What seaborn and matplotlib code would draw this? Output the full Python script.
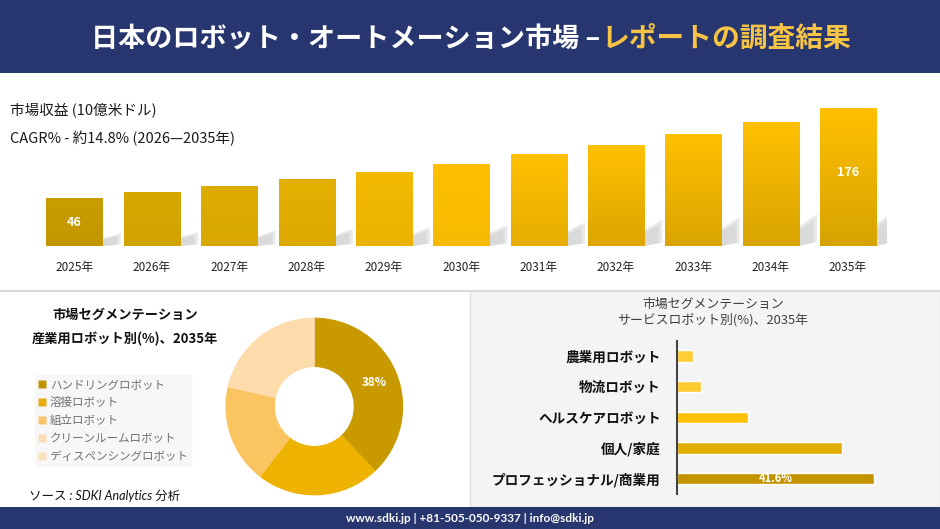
import numpy as np
import pandas as pd
import matplotlib
matplotlib.use("Agg")
import matplotlib.pyplot as plt
from matplotlib.patches import Rectangle, Polygon
from matplotlib.lines import Line2D
from matplotlib.colors import to_rgb
import seaborn as sns

# ---------------- data ----------------
years = ["2025年", "2026年", "2027年", "2028年", "2029年", "2030年",
         "2031年", "2032年", "2033年", "2034年", "2035年"]
revenue = [46, 54.7, 63.3, 72.6, 83.1, 94.7, 108.7, 121.7, 137.6, 155.4, 176]
revenue_labels = {0: "46", 10: "176"}

ind_segments = ["ハンドリングロボット", "溶接ロボット", "組立ロボット",
                "クリーンルームロボット", "ディスペンシングロボット"]
ind_shares = [38, 22.5, 18.1, 12.0, 9.4]

svc_segments = ["農業用ロボット", "物流ロボット", "ヘルスケアロボット",
                "個人/家庭", "プロフェッショナル/商業用"]
svc_shares = [3.3, 5.0, 14.9, 34.9, 41.6]

# ---------------- style ----------------
W, H = 940, 529
NAVY = "#27366F"
bar_top = ["#CA9D00", "#D8A800", "#DEAC00", "#E4B000", "#F3BA00", "#FFC000",
           "#FFC000", "#FFC000", "#FFC000", "#FFC000", "#FFC000"]
bar_bot = ["#C39600", "#D2A300", "#D9A800", "#DDAA00", "#EAB300", "#F6BA00",
           "#E6AE00", "#DCA600", "#DAA500", "#D8A400", "#D6A300"]
donut_colors = ["#C89A00", "#EEB300", "#FAC460", "#FDDCAB", "#FDDCAB"]
legend_colors = ["#C09300", "#E8AE10", "#F7C46A", "#FADDB6", "#FBE2BE"]
svc_colors = ["#FFCD35", "#FFCA30", "#FFC000", "#E3AC00", "#C49400"]
BASE = -23.8

sns.set_style("white")
plt.rcParams["font.family"] = ["Noto Sans CJK JP", "DejaVu Sans"]

fig = plt.figure(figsize=(W / 100, H / 100), dpi=100)
fig.patch.set_facecolor("white")


def fx(px):
    return px / W


def fy(py):
    return 1 - py / H


# background panels
fig.add_artist(Rectangle((0, fy(73)), 1, 73 / H, transform=fig.transFigure,
                         facecolor=NAVY, edgecolor="none", zorder=0))
fig.add_artist(Rectangle((fx(470), fy(507)), 470 / W, (507 - 291) / H,
                         transform=fig.transFigure, facecolor="#F4F4F4",
                         edgecolor="#E2E2E2", lw=1, zorder=0))
fig.add_artist(Line2D([0, 1], [fy(291), fy(291)], transform=fig.transFigure,
                      color="#DADADA", lw=1.5, zorder=1))
fig.add_artist(Rectangle((0, 0), 1, (H - 507) / H, transform=fig.transFigure,
                         facecolor=NAVY, edgecolor="none", zorder=0))

# header title
fig.text(fx(600), fy(39), "日本のロボット・オートメーション市場 –", color="white",
         fontsize=19.5, fontweight="bold", ha="right", va="center")
fig.text(fx(602), fy(39), "レポートの調査結果", color="#F6C344",
         fontsize=20, fontweight="bold", ha="left", va="center")

fig.text(fx(10), fy(110), "市場収益 (10億米ドル)", fontsize=10.5, color="#1a1a1a",
         ha="left", va="center")
fig.text(fx(10), fy(138), "CAGR% - 約14.8% (2026—2035年)", fontsize=10.5,
         color="#1a1a1a", ha="left", va="center")

# ---------------- main bar chart ----------------
ax = fig.add_axes([fx(35.8), fy(246), fx(886.7) - fx(35.8), (246 - 100) / H])
df = pd.DataFrame({"year": years, "rev": revenue})
sns.barplot(data=df, x="year", y="rev", hue="year", palette=bar_top,
            legend=False, width=0.724, ax=ax, zorder=3, saturation=1)
ax.set_xlim(-0.5, len(years) - 0.5)
ax.set_ylim(BASE, BASE + 146 / 0.6923)
patches = sorted(ax.patches, key=lambda p: p.get_x())
for i, p in enumerate(patches):
    top = p.get_height()
    p.set_y(BASE)
    p.set_height(top - BASE)
    p.set_edgecolor("none")
    x0, x1 = p.get_x(), p.get_x() + p.get_width()
    grad = np.linspace(0, 1, 64)[:, None, None]
    c1 = np.array(to_rgb(bar_top[i]))
    c2 = np.array(to_rgb(bar_bot[i]))
    img = c1 * (1 - grad) + c2 * grad
    im = ax.imshow(img, extent=(x0, x1, BASE, top), origin="upper",
                   aspect="auto", zorder=3.5)
    im.set_clip_path(p)
    # soft shadow
    hh = top - BASE
    for k, a in enumerate([0.25, 0.22, 0.18]):
        sc = 1 - 0.12 * k
        shadow = Polygon([(x1, BASE), (x1, BASE + 0.16 * hh * sc),
                          (x1 + 0.24 * sc, BASE + 0.26 * hh * sc),
                          (x1 + 0.24 * sc, BASE + 0.03 * hh)],
                         closed=True, facecolor="#B8B8B8", edgecolor="none",
                         alpha=a, zorder=2)
        ax.add_patch(shadow)
    if i in revenue_labels:
        ax.text(i, (BASE + top) / 2 + (6 if i == 10 else -1), revenue_labels[i],
                color="white", fontweight="bold", fontsize=9,
                ha="center", va="center", zorder=5)
ax.set_xlim(-0.5, len(years) - 0.5)
ax.set_ylim(BASE, BASE + 146 / 0.6923)
ax.set_xlabel("")
ax.set_ylabel("")
ax.set_yticks([])
ax.tick_params(axis="x", length=0, pad=11, labelsize=8.5, labelcolor="#222222")
for s in ax.spines.values():
    s.set_visible(False)
ax.patch.set_alpha(0)

# ---------------- donut ----------------
fig.text(fx(125), fy(315), "市場セグメンテーション", fontsize=9.5,
         fontweight="bold", ha="center", va="center", color="#111111")
fig.text(fx(125), fy(339), "産業用ロボット別(%)、2035年", fontsize=9.5,
         fontweight="bold", ha="center", va="center", color="#111111")

r = 88.3
axd = fig.add_axes([fx(314.3 - r), fy(406.5 + r), 2 * r / W, 2 * r / H])
wedges, _ = axd.pie(ind_shares, colors=donut_colors, startangle=90,
                    counterclock=False, radius=1,
                    wedgeprops=dict(width=0.547, linewidth=0.8))
for w in wedges:
    w.set_edgecolor(w.get_facecolor())
axd.set_xlim(-1, 1)
axd.set_ylim(-1, 1)
ang = np.deg2rad(90 - 360 * ind_shares[0] / 100 / 2)
rm = 1 - 0.547 / 2
axd.text(rm * np.cos(ang), rm * np.sin(ang), f"{ind_shares[0]}%", color="white",
         fontweight="bold", fontsize=8.5, ha="center", va="center")

handles = [Line2D([], [], marker="s", linestyle="none", markersize=6,
                  markerfacecolor=c, markeredgecolor="none") for c in legend_colors]
leg = fig.legend(handles, ind_segments, loc="upper left",
                 bbox_to_anchor=(fx(35), fy(375)), frameon=True, fancybox=False,
                 facecolor="#F6F6F6", edgecolor="#F6F6F6", fontsize=8.3,
                 labelcolor="#707070", handlelength=0.7, handletextpad=0.3,
                 labelspacing=0.42, borderpad=0.3, borderaxespad=0)

fig.text(fx(29), fy(496), "ソース : SDKI Analytics 分析", fontsize=9,
         style="italic", family=["Lato", "DejaVu Sans", "Noto Sans CJK JP"],
         ha="left", va="center", color="#111111")

# ---------------- service robots bar ----------------
fig.text(fx(713), fy(304), "市場セグメンテーション", fontsize=9.3,
         ha="center", va="center", color="#404040")
fig.text(fx(713), fy(320), "サービスロボット別(%)、2035年", fontsize=9.3,
         ha="center", va="center", color="#404040")

axh = fig.add_axes([fx(677.3), fy(494), 236.4 / W, (494 - 340.7) / H])
dfs = pd.DataFrame({"seg": svc_segments, "share": svc_shares})
sns.barplot(data=dfs, x="share", y="seg", hue="seg", palette=svc_colors,
            legend=False, orient="h", width=0.375, ax=axh, saturation=1)
axh.set_xlim(0, 50)
axh.set_ylim(len(svc_segments) - 0.5, -0.5)
axh.set_xlabel("")
axh.set_ylabel("")
axh.set_xticks([])
axh.tick_params(axis="y", length=0, pad=12, labelsize=9.8)
for lab in axh.get_yticklabels():
    lab.set_fontweight("bold")
    lab.set_color("#111111")
for k, s in axh.spines.items():
    s.set_visible(k == "left")
axh.spines["left"].set_color("#444444")
axh.spines["left"].set_linewidth(1.5)
axh.patch.set_alpha(0)
last = len(svc_shares) - 1
axh.text(svc_shares[last] / 2, last, f"{svc_shares[last]}%", color="white",
         fontweight="bold", fontsize=8, ha="center", va="center")

# ---------------- footer ----------------
fig.text(0.5, fy(518), "www.sdki.jp | +81-505-050-9337 | info@sdki.jp",
         color="white", fontsize=8.5, fontweight="bold",
         family=["Lato", "DejaVu Sans"], ha="center", va="center")

fig.savefig("out.png", dpi=100)
